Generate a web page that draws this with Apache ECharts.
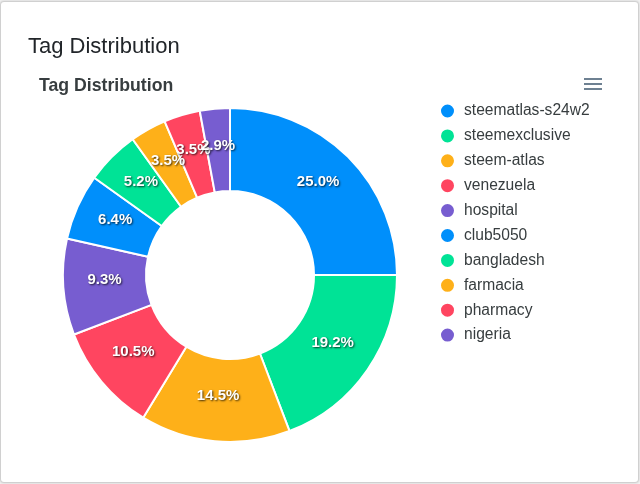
<!doctype html>
<html>
    <head>
        <meta charset="utf-8">
        <title>Tag Distribution</title>
        <style>
            html, body { margin: 0; background: #f1f1f1; }
            #main {
                position: absolute; left: 1px; top: 2px; width: 637px; height: 480px;
                background: #fff; border-radius: 3px;
                box-shadow: 0 0 2px 1px #c4c4c4;
            }
        </style>
    </head>
    <body>
        <div id="main"></div>
        <script src="https://cdn.jsdelivr.net/npm/echarts@6/dist/echarts.min.js"></script>
        <script>
            var tags = ['steematlas-s24w2', 'steemexclusive', 'steem-atlas', 'venezuela', 'hospital',
                'club5050', 'bangladesh', 'farmacia', 'pharmacy', 'nigeria'];
            var shares = [25.0, 19.2, 14.5, 10.5, 9.3, 6.4, 5.2, 3.5, 3.5, 2.9];
            var palette = ['#008FFB', '#00E396', '#FEB019', '#FF4560', '#775DD0'];

            var chart = echarts.init(document.getElementById('main'), null, {
                devicePixelRatio: 1
            });

            var font = '"Liberation Sans", Arial, sans-serif';

            chart.setOption({
                animation: false,
                color: palette,
                title: [{
                    text: 'Tag Distribution',
                    left: 22,
                    top: 29,
                    textStyle: { fontFamily: font, fontSize: 22, fontWeight: 'normal', color: '#212529' }
                }, {
                    text: 'Tag Distribution',
                    left: 33,
                    top: 70,
                    textStyle: { fontFamily: font, fontSize: 17.7, fontWeight: 'bold', color: '#373d3f' }
                }],
                legend: {
                    orient: 'vertical',
                    left: 433,
                    top: 95.5,
                    icon: 'circle',
                    itemWidth: 15,
                    itemHeight: 15,
                    itemGap: 7.9,
                    textStyle: { fontFamily: font, fontSize: 15.6, lineHeight: 15, color: '#373d3f', padding: [0, 0, 0, 4] },
                    data: tags
                },
                toolbox: {
                    right: 21,
                    top: 61,
                    itemSize: 18,
                    feature: {
                        myMenu: {
                            show: true,
                            title: 'menu',
                            icon: 'path://M3 6h18v2H3zM3 11h18v2H3zM3 16h18v2H3z',
                            onclick: function () {}
                        }
                    },
                    iconStyle: { color: '#6e8192', borderWidth: 0 }
                },
                series: [{
                    type: 'pie',
                    center: [229, 273],
                    radius: [84, 167],
                    startAngle: 90,
                    clockwise: true,
                    itemStyle: { borderColor: '#fff', borderWidth: 2 },
                    label: {
                        position: 'inside',
                        formatter: function (p) { return p.value.toFixed(1) + '%'; },
                        fontFamily: font,
                        fontSize: 15,
                        fontWeight: 'bold',
                        color: '#fff',
                        textShadowColor: 'rgba(0,0,0,0.75)',
                        textShadowBlur: 2,
                        textShadowOffsetX: 1,
                        textShadowOffsetY: 1
                    },
                    labelLine: { show: false },
                    labelLayout: function (p) {
                        // labels sit a little tighter to the middle than the ring's midline
                        var cx = p.labelRect.x + p.labelRect.width / 2;
                        var cy = p.labelRect.y + p.labelRect.height / 2;
                        return {
                            hideOverlap: false,
                            dx: -(cx - 229) * 0.025 - 0.5,
                            dy: -0.02 * (cy - 145) - 1.5
                        };
                    },
                    data: tags.map(function (name, i) {
                        return { name: name, value: shares[i] };
                    })
                }]
            });

            window.onresize = chart.resize;
        </script>
    </body>
</html>
